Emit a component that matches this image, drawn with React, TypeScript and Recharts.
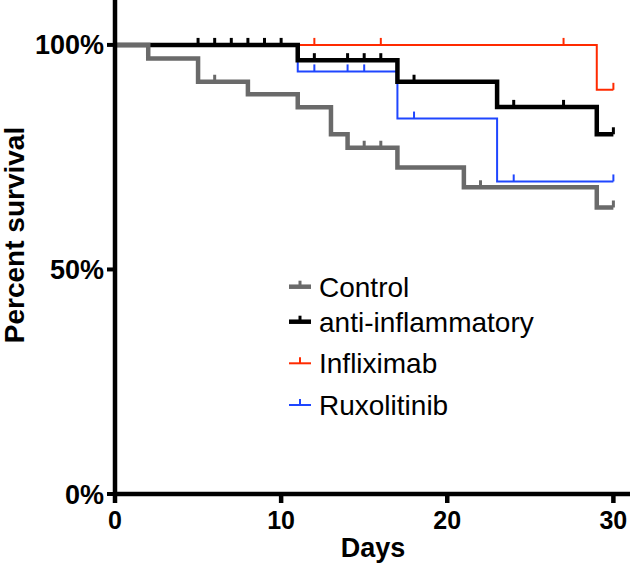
import React from 'react';
import { LineChart, Line, XAxis, YAxis, Legend } from 'recharts';

// ---- data ----
const controlDays = [0, 2, 5, 6, 8, 11, 13, 14, 15, 16, 17, 21, 22, 29, 30];
const controlSurvival = [100, 97.0, 91.8, 91.8, 89.0, 86.1, 80.1, 77.1, 77.1, 77.1, 72.7, 68.3, 68.3, 63.8, 63.8];
const controlCensored = [0, 0, 0, 1, 0, 0, 0, 0, 1, 1, 0, 0, 1, 0, 1];

const antiDays = [0, 5, 6, 7, 8, 9, 10, 11, 12, 14, 15, 16, 17, 18, 23, 24, 27, 29, 30];
const antiSurvival = [100, 100, 100, 100, 100, 100, 100, 96.6, 96.6, 96.6, 96.6, 96.6, 91.8, 91.8, 86.2, 86.2, 86.2, 80.1, 80.1];
const antiCensored = [0, 1, 1, 1, 1, 1, 1, 0, 1, 1, 1, 1, 0, 1, 0, 1, 1, 0, 1];

const inflixDays = [0, 12, 16, 27, 29, 30];
const inflixSurvival = [100, 100, 100, 100, 90, 90];
const inflixCensored = [0, 1, 1, 1, 0, 1];

const ruxoDays = [0, 11, 12, 14, 15, 17, 18, 23, 24, 30];
const ruxoSurvival = [100, 94.1, 94.1, 94.1, 94.1, 83.6, 83.6, 69.6, 69.6, 69.6];
const ruxoCensored = [0, 0, 1, 1, 1, 0, 1, 0, 1, 1];

const xTicks = [0, 10, 20, 30];
const yTicks = [0, 50, 100];

const legendNames = ['Control', 'anti-inflammatory', 'Infliximab', 'Ruxolitinib'];

const FONT = '"Liberation Sans", Arial, Helvetica, sans-serif';

type Pt = { day: number; surv: number; censored: number };
const zip = (d: number[], s: number[], c: number[]): Pt[] =>
  d.map((day, i) => ({ day, surv: s[i], censored: c[i] }));

const series = [
  { name: 'Control', data: zip(controlDays, controlSurvival, controlCensored), color: '#6a6a6a', width: 4.5, tickW: 3 },
  { name: 'anti-inflammatory', data: zip(antiDays, antiSurvival, antiCensored), color: '#000000', width: 4.5, tickW: 3 },
  { name: 'Infliximab', data: zip(inflixDays, inflixSurvival, inflixCensored), color: '#ff2a00', width: 2, tickW: 2 },
  { name: 'Ruxolitinib', data: zip(ruxoDays, ruxoSurvival, ruxoCensored), color: '#1f46ff', width: 2, tickW: 2 },
];

// draw order: red, blue, black, gray on top
const drawOrder = ['Infliximab', 'Ruxolitinib', 'anti-inflammatory', 'Control'];

const makeDot = (color: string, w: number) => (props: any) => {
  const { cx, cy, payload, index } = props;
  if (!payload || !payload.censored || cx == null || cy == null) {
    return <g key={`d-${index}`} />;
  }
  return (
    <line
      key={`d-${index}`}
      x1={cx}
      x2={cx}
      y1={cy}
      y2={cy - 7}
      stroke={color}
      strokeWidth={w}
    />
  );
};

const legendBaselines = [31.7, 66.7, 108.3, 150];

const LegendContent = () => (
  <svg width={280} height={160} style={{ overflow: 'visible' }}>
    {legendNames.map((n, i) => {
      const s = series.find((x) => x.name === n)!;
      const b = legendBaselines[i];
      const sy = b - 10;
      return (
        <g key={n}>
          <line x1={4} x2={26} y1={sy} y2={sy} stroke={s.color} strokeWidth={s.width} />
          <line x1={15} x2={15} y1={sy} y2={sy - 6} stroke={s.color} strokeWidth={s.tickW} />
          <text x={34} y={b} fontFamily={FONT} fontSize={28} fill="#000">
            {n}
          </text>
        </g>
      );
    })}
  </svg>
);

export default function App() {
  return (
    <div style={{ position: 'absolute', left: 0, top: 0, width: 631, height: 566, background: '#fff' }}>
      <LineChart width={631} height={566} margin={{ top: 0, right: 1, bottom: 0, left: 0 }}>
        <XAxis
          type="number"
          dataKey="day"
          domain={[0, 31]}
          ticks={xTicks}
          allowDataOverflow
          height={72}
          axisLine={{ stroke: '#000', strokeWidth: 4.5 }}
          tickLine={{ stroke: '#000', strokeWidth: 4.5 }}
          tickSize={9}
          tickMargin={8}
          tick={{ fontSize: 25, fontWeight: 'bold', fill: '#000', fontFamily: FONT }}
          label={{
            content: () => (
              <text x={373} y={557} textAnchor="middle" fontFamily={FONT} fontSize={27} fontWeight="bold" fill="#000">
                Days
              </text>
            ),
          }}
        />
        <YAxis
          type="number"
          domain={[0, 110]}
          ticks={yTicks}
          allowDataOverflow
          width={115}
          axisLine={{ stroke: '#000', strokeWidth: 4.5 }}
          tickLine={{ stroke: '#000', strokeWidth: 4 }}
          tickSize={8}
          tickMargin={3}
          tickFormatter={(v: number) => `${v}%`}
          tick={{ fontSize: 27, fontWeight: 'bold', fill: '#000', fontFamily: FONT }}
          label={{
            content: () => (
              <text
                transform="translate(24,235) rotate(-90)"
                textAnchor="middle"
                fontFamily={FONT}
                fontSize={28}
                fontWeight="bold"
                fill="#000"
              >
                Percent survival
              </text>
            ),
          }}
        />
        {drawOrder.map((n) => {
          const s = series.find((x) => x.name === n)!;
          return (
            <Line
              key={n}
              name={n}
              data={s.data}
              dataKey="surv"
              type="stepAfter"
              stroke={s.color}
              strokeWidth={s.width}
              strokeLinejoin="miter"
              strokeLinecap="butt"
              dot={makeDot(s.color, s.tickW)}
              activeDot={false}
              isAnimationActive={false}
              legendType="none"
            />
          );
        })}
        <Legend
          layout="vertical"
          align="center"
          verticalAlign="middle"
          wrapperStyle={{ left: 285, top: 265, width: 280, height: 160 }}
          content={() => <LegendContent />}
        />
      </LineChart>
    </div>
  );
}
